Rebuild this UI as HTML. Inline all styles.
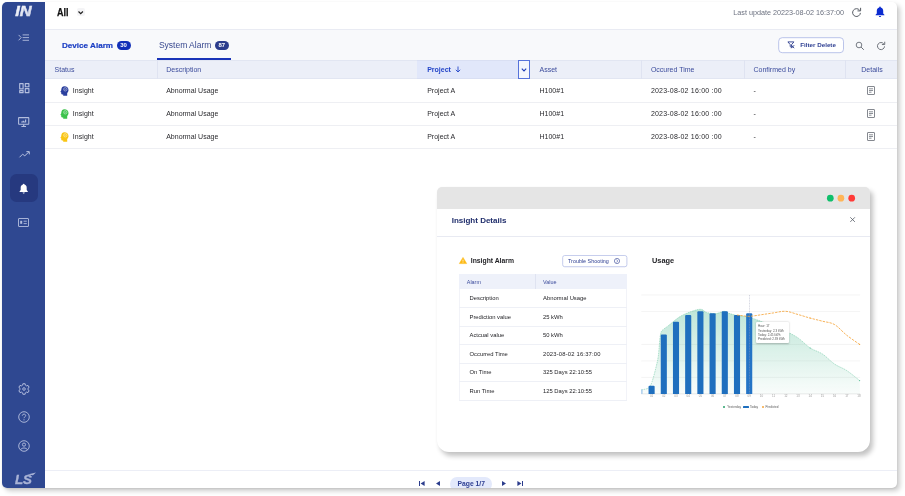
<!DOCTYPE html>
<html>
<head>
<meta charset="utf-8">
<title>Alarm</title>
<style>
*{box-sizing:border-box;margin:0;padding:0}
html,body{width:905px;height:496px;background:#fff;overflow:hidden}
body{font-family:"Liberation Sans",sans-serif;position:relative;color:#222}
.abs{position:absolute}
#card{position:absolute;left:2px;top:2px;width:895px;height:486px;border-radius:5px;background:#fff;
  box-shadow:3px 3px 5px rgba(0,0,0,.20),0 1px 2px rgba(0,0,0,.08)}
#clip{position:absolute;left:0;top:0;width:895px;height:486px;border-radius:5px;overflow:hidden}
#in{position:absolute;left:-2px;top:-2px;width:905px;height:496px;will-change:transform}
.t{position:absolute;white-space:pre;line-height:1}
svg{position:absolute;overflow:visible}
</style>
</head>
<body>
<div id="card"><div id="clip"><div id="in">
<div class="abs" style="left:2px;top:2px;width:43px;height:486px;background:#2f4891;"></div>
<svg style="left:14px;top:5px" width="20" height="12" viewBox="0 0 20 12"><defs><linearGradient id="lg" x1="0" y1="0" x2="1" y2="1"><stop offset="0" stop-color="#ffffff"/><stop offset="1" stop-color="#c9cfe6"/></linearGradient></defs><text x="1.2" y="10.9" font-family="Liberation Sans" font-weight="bold" font-style="italic" font-size="14.2" fill="url(#lg)" stroke="url(#lg)" stroke-width="0.45" textLength="16.4" lengthAdjust="spacingAndGlyphs">IN</text></svg>
<svg style="left:18px;top:34px" width="12" height="8" viewBox="0 0 12 8"><path d="M0.6 0.9 L3.2 3.6 L0.6 6.3" fill="none" stroke="#b4bede" stroke-width="0.9"/><path d="M4.6 0.9 H11 M4.6 3.6 H11 M4.6 6.3 H11" stroke="#b4bede" stroke-width="0.9"/></svg>
<svg style="left:18.7px;top:83px" width="10.6" height="10.4" viewBox="0 0 10.6 10.4"><g fill="none" stroke="#b4bede" stroke-width="1.15" stroke-linejoin="round"><rect x="0.7" y="0.7" width="3.4" height="5.2"/><rect x="6.3" y="0.7" width="3.6" height="3.1"/><rect x="0.7" y="7.6" width="3.4" height="2.1"/><rect x="6.3" y="5.6" width="3.6" height="4.1"/></g></svg>
<svg style="left:18px;top:117px" width="11.4" height="10" viewBox="0 0 11.4 10"><g fill="none" stroke="#b4bede" stroke-width="1.05"><rect x="0.6" y="0.6" width="10.2" height="6.6" rx="0.4"/><path d="M3.4 9.5 H8 M5.7 7.2 V9.5" stroke-width="1.2"/></g><path d="M3.2 5.6 V4.6 H4.6 V3.8 H6 V4.4 H7 V2.6 H8.2 V5.6 Z" fill="#b4bede"/></svg>
<svg style="left:18.5px;top:151px" width="11" height="7" viewBox="0 0 11 7"><g fill="none" stroke="#b4bede" stroke-width="1"><path d="M0.5 6.3 L3.6 3.2 L5.8 4.8 L10 0.8"/><path d="M7.4 0.6 H10.3 V3.4"/></g></svg>
<div class="abs" style="left:9.7px;top:174.2px;width:28.1px;height:27.8px;background:#26397f;border-radius:6.5px"></div>
<svg style="left:19px;top:182.6px" width="9.4" height="11.6" viewBox="0 0 10 12"><path d="M5 0.6 C5.5 0.6 5.8 1 5.8 1.4 C7.4 1.8 8.2 3.2 8.2 4.8 V7.4 L9.4 8.8 V9.3 H0.6 V8.8 L1.8 7.4 V4.8 C1.8 3.2 2.6 1.8 4.2 1.4 C4.2 1 4.5 0.6 5 0.6 Z M3.9 9.9 H6.1 C6.1 10.6 5.6 11.1 5 11.1 C4.4 11.1 3.9 10.6 3.9 9.9 Z" fill="#fff"/></svg>
<svg style="left:18.2px;top:217.5px" width="11" height="9" viewBox="0 0 11 9"><g fill="none" stroke="#b4bede" stroke-width="0.9"><rect x="0.5" y="0.5" width="10" height="8" rx="0.4"/><path d="M5.6 3.2 H8.8 M5.6 5.6 H8.8"/><rect x="2.2" y="2.8" width="2" height="3" fill="#b4bede" stroke="none"/></g></svg>
<svg style="left:17.6px;top:383.3px" width="12" height="12" viewBox="0 0 12 12"><path d="M4.67,2.12 L4.88,0.72 L7.12,0.72 L7.33,2.12 L8.69,2.91 L10.01,2.39 L11.14,4.33 L10.02,5.22 L10.02,6.78 L11.14,7.67 L10.01,9.61 L8.69,9.09 L7.33,9.88 L7.12,11.28 L4.88,11.28 L4.67,9.88 L3.31,9.09 L1.99,9.61 L0.86,7.67 L1.98,6.78 L1.98,5.22 L0.86,4.33 L1.99,2.39 L3.31,2.91Z" fill="none" stroke="#b4bede" stroke-width="0.95" stroke-linejoin="round"/><circle cx="6" cy="6" r="1.3" fill="none" stroke="#b4bede" stroke-width="0.9"/></svg>
<svg style="left:17.6px;top:411.4px" width="12" height="12" viewBox="0 0 12 12"><circle cx="6" cy="6" r="5.3" fill="none" stroke="#b4bede" stroke-width="0.9"/><path d="M4.3 4.7 C4.3 2.6 7.7 2.6 7.7 4.6 C7.7 5.8 6 5.9 6 7.2" fill="none" stroke="#b4bede" stroke-width="0.9"/><circle cx="6" cy="8.8" r="0.6" fill="#b4bede"/></svg>
<svg style="left:17.6px;top:440.2px" width="12" height="12" viewBox="0 0 12 12"><circle cx="6" cy="6" r="5.3" fill="none" stroke="#b4bede" stroke-width="0.9"/><circle cx="6" cy="4.6" r="1.6" fill="none" stroke="#b4bede" stroke-width="0.9"/><path d="M2.6 9.8 C3.4 7.4 8.6 7.4 9.4 9.8" fill="none" stroke="#b4bede" stroke-width="0.9"/></svg>
<svg style="left:14px;top:471px" width="24" height="14" viewBox="0 0 24 14"><text x="1" y="12.6" font-family="Liberation Sans" font-weight="bold" font-style="italic" font-size="13" fill="#a9b3d6" stroke="#a9b3d6" stroke-width="0.4" textLength="17" lengthAdjust="spacingAndGlyphs">LS</text><path d="M13.5 3.6 L22 1.6 L19 4.2 Z" fill="#a9b3d6"/></svg>
<div class="abs" style="left:45px;top:29px;width:852px;height:1px;background:#e9ebf3;"></div>
<div class="t" style="left:56.5px;top:7.80px;font-size:10px;color:#111;font-weight:bold;transform:scaleX(0.9);transform-origin:0 50%;-webkit-text-stroke:0.25px #111;">All</div>
<div class="abs" style="left:76.8px;top:8.2px;width:8.6px;height:8px;background:#f4f4f6;border-radius:2px"></div>
<svg style="left:78.2px;top:11px" width="6" height="4" viewBox="0 0 6 4"><path d="M0.5 0.5 L2.7 2.7 L4.9 0.5" fill="none" stroke="#222" stroke-width="1.2"/></svg>
<div class="t" style="left:733.3px;top:8.69px;font-size:7.22px;color:#6d7280;">Last update 20223-08-02 16:37:00</div>
<svg style="left:851px;top:7px" width="11" height="11" viewBox="0 0 11 11"><path d="M8.6 3.2 A3.9 3.9 0 1 0 9.4 5.9" fill="none" stroke="#555a63" stroke-width="1"/><path d="M9.6 0.8 V3.9 H6.5" fill="none" stroke="#555a63" stroke-width="1"/></svg>
<svg style="left:875px;top:6px" width="10" height="12" viewBox="0 0 10 12"><path d="M5 0.6 C5.5 0.6 5.8 1 5.8 1.4 C7.4 1.8 8.2 3.2 8.2 4.8 V7.4 L9.4 8.8 V9.3 H0.6 V8.8 L1.8 7.4 V4.8 C1.8 3.2 2.6 1.8 4.2 1.4 C4.2 1 4.5 0.6 5 0.6 Z M3.9 9.9 H6.1 C6.1 10.6 5.6 11.1 5 11.1 C4.4 11.1 3.9 10.6 3.9 9.9 Z" fill="#0b2bd0"/></svg>
<div class="abs" style="left:45px;top:30px;width:852px;height:30px;background:#f8f9fb;"></div>
<div class="t" style="left:62px;top:41.65px;font-size:8.1px;color:#1c3fc4;font-weight:bold;-webkit-text-stroke:0.2px #1c3fc4;">Device Alarm</div>
<div class="abs" style="left:116.6px;top:40.6px;width:14px;height:9.2px;background:#1230b8;border-radius:5px"></div>
<div class="t" style="left:116.6px;top:42.30px;font-size:6px;color:#fff;font-weight:bold;width:14px;text-align:center;">30</div>
<div class="t" style="left:158.9px;top:41.45px;font-size:8.5px;color:#38488f;">System Alarm</div>
<div class="abs" style="left:214.8px;top:40.6px;width:14px;height:9.2px;background:#2b3c8c;border-radius:5px"></div>
<div class="t" style="left:214.8px;top:42.30px;font-size:6px;color:#fff;font-weight:bold;width:14px;text-align:center;">87</div>
<div class="abs" style="left:157.2px;top:58.2px;width:73.4px;height:1.5px;background:#1a34b8;"></div>
<svg style="left:778px;top:37px" width="66" height="16" viewBox="0 0 66 16"><rect x="0.7" y="0.7" width="64.8" height="15" rx="3.5" fill="#fff" stroke="#b3bde8" stroke-width="0.9"/></svg>
<svg style="left:786.8px;top:41.4px" width="8" height="8" viewBox="0 0 8 8"><path d="M0.9 0.9 H6.9 L4.6 3.6 V6.6 L3.2 5.6 V3.6 Z" fill="none" stroke="#2b3c8c" stroke-width="0.9" stroke-linejoin="round"/><path d="M4.4 4.2 L7.2 7.2 M7.2 4.2 L4.4 7.2" stroke="#2b3c8c" stroke-width="0.9"/></svg>
<div class="t" style="left:800.3px;top:42.19px;font-size:6.22px;color:#2d3e92;font-weight:bold;">Filter Delete</div>
<svg style="left:854.5px;top:40.5px" width="10" height="10" viewBox="0 0 10 10"><circle cx="4" cy="4" r="2.8" fill="none" stroke="#686d76" stroke-width="0.9"/><path d="M6.1 6.1 L8.8 8.8" stroke="#686d76" stroke-width="1"/></svg>
<svg style="left:875.5px;top:40.5px" width="10" height="10" viewBox="0 0 11 11"><path d="M8.6 3.2 A3.9 3.9 0 1 0 9.4 5.9" fill="none" stroke="#62676f" stroke-width="1"/><path d="M9.6 0.8 V3.9 H6.5" fill="none" stroke="#62676f" stroke-width="1"/></svg>
<div class="abs" style="left:45px;top:60px;width:852px;height:19px;background:#eceff8;border-top:1px solid #e2e6f2;border-bottom:1px solid #e2e6f2"></div>
<div class="abs" style="left:417px;top:60px;width:102px;height:19px;background:#e1e7fa;border-top:1px solid #d9dff3;border-bottom:1px solid #d9dff3"></div>
<div class="abs" style="left:518px;top:60px;width:12px;height:19px;background:#f4f6fd;border:1px solid #5773da"></div>
<div class="abs" style="left:156.5px;top:60px;width:1px;height:19px;background:#dfe3f1;"></div>
<div class="abs" style="left:641px;top:60px;width:1px;height:19px;background:#dfe3f1;"></div>
<div class="abs" style="left:744px;top:60px;width:1px;height:19px;background:#dfe3f1;"></div>
<div class="abs" style="left:845px;top:60px;width:1px;height:19px;background:#dfe3f1;"></div>
<div class="t" style="left:54.6px;top:66.10px;font-size:7px;color:#3c4c9c;">Status</div>
<div class="t" style="left:166.2px;top:66.10px;font-size:7px;color:#3c4c9c;">Description</div>
<div class="t" style="left:427.2px;top:66.10px;font-size:7px;color:#2445c8;font-weight:bold;">Project</div>
<svg style="left:455px;top:66.2px" width="6" height="7" viewBox="0 0 6 7"><path d="M3 0.5 V6 M0.8 3.8 L3 6 L5.2 3.8" fill="none" stroke="#2445c8" stroke-width="0.9"/></svg>
<svg style="left:521.3px;top:68px" width="6" height="4" viewBox="0 0 6 4"><path d="M0.8 0.7 L3 3 L5.2 0.7" fill="none" stroke="#1f3db8" stroke-width="1.1"/></svg>
<div class="t" style="left:539.5px;top:66.10px;font-size:7px;color:#3c4c9c;">Asset</div>
<div class="t" style="left:650.9px;top:66.10px;font-size:7px;color:#3c4c9c;">Occured Time</div>
<div class="t" style="left:753.5px;top:66.10px;font-size:7px;color:#3c4c9c;">Confirmed by</div>
<div class="t" style="left:861.3px;top:66.10px;font-size:7px;color:#3c4c9c;">Details</div>
<div class="abs" style="left:45px;top:102px;width:852px;height:1px;background:#eeeff3;"></div>
<div class="abs" style="left:45px;top:125px;width:852px;height:1px;background:#eeeff3;"></div>
<div class="abs" style="left:45px;top:148px;width:852px;height:1px;background:#eeeff3;"></div>
<svg style="left:59.9px;top:86.0px" width="9" height="10" viewBox="0 0 9 10"><path d="M4.4 0.3 C6.8 0.3 8.5 1.9 8.5 4 C8.5 5.4 7.8 6.3 7.2 6.9 V9.7 H3.2 V8.4 H2 C1.5 8.4 1.2 8.1 1.2 7.6 V6.3 L0.3 6 L1.2 4.4 C1.2 1.9 2.4 0.3 4.4 0.3 Z" fill="#2a3f9e"/><circle cx="5.3" cy="3.3" r="1.7" fill="none" stroke="#fff" stroke-width="0.7" opacity="0.6"/><path d="M4.4 3.4 L6.2 3.2" stroke="#fff" stroke-width="0.6" opacity="0.6"/></svg>
<div class="t" style="left:72.8px;top:86.90px;font-size:7px;color:#2a2a2e;letter-spacing:0.05px;">Insight</div>
<div class="t" style="left:166.2px;top:86.90px;font-size:7px;color:#2a2a2e;">Abnormal Usage</div>
<div class="t" style="left:427.2px;top:86.90px;font-size:7px;color:#2a2a2e;">Project A</div>
<div class="t" style="left:539.5px;top:86.90px;font-size:7px;color:#2a2a2e;">H100#1</div>
<div class="t" style="left:650.9px;top:86.90px;font-size:7px;color:#2a2a2e;letter-spacing:0.2px;">2023-08-02 16:00 :00</div>
<div class="t" style="left:753.5px;top:86.90px;font-size:7px;color:#2a2a2e;">-</div>
<svg style="left:867.3px;top:85.6px" width="8" height="9" viewBox="0 0 8 9"><rect x="0.5" y="0.5" width="7" height="8" rx="0.4" fill="#fff" stroke="#666b74" stroke-width="0.8"/><path d="M2 2.8 H6 M2 4.5 H6 M2 6.2 H4.5" stroke="#666b74" stroke-width="0.75"/></svg>
<svg style="left:59.9px;top:109.2px" width="9" height="10" viewBox="0 0 9 10"><path d="M4.4 0.3 C6.8 0.3 8.5 1.9 8.5 4 C8.5 5.4 7.8 6.3 7.2 6.9 V9.7 H3.2 V8.4 H2 C1.5 8.4 1.2 8.1 1.2 7.6 V6.3 L0.3 6 L1.2 4.4 C1.2 1.9 2.4 0.3 4.4 0.3 Z" fill="#3cc24c"/><circle cx="5.3" cy="3.3" r="1.7" fill="none" stroke="#fff" stroke-width="0.7" opacity="0.6"/><path d="M4.4 3.4 L6.2 3.2" stroke="#fff" stroke-width="0.6" opacity="0.6"/></svg>
<div class="t" style="left:72.8px;top:110.10px;font-size:7px;color:#2a2a2e;letter-spacing:0.05px;">Insight</div>
<div class="t" style="left:166.2px;top:110.10px;font-size:7px;color:#2a2a2e;">Abnormal Usage</div>
<div class="t" style="left:427.2px;top:110.10px;font-size:7px;color:#2a2a2e;">Project A</div>
<div class="t" style="left:539.5px;top:110.10px;font-size:7px;color:#2a2a2e;">H100#1</div>
<div class="t" style="left:650.9px;top:110.10px;font-size:7px;color:#2a2a2e;letter-spacing:0.2px;">2023-08-02 16:00 :00</div>
<div class="t" style="left:753.5px;top:110.10px;font-size:7px;color:#2a2a2e;">-</div>
<svg style="left:867.3px;top:108.8px" width="8" height="9" viewBox="0 0 8 9"><rect x="0.5" y="0.5" width="7" height="8" rx="0.4" fill="#fff" stroke="#666b74" stroke-width="0.8"/><path d="M2 2.8 H6 M2 4.5 H6 M2 6.2 H4.5" stroke="#666b74" stroke-width="0.75"/></svg>
<svg style="left:59.9px;top:132.2px" width="9" height="10" viewBox="0 0 9 10"><path d="M4.4 0.3 C6.8 0.3 8.5 1.9 8.5 4 C8.5 5.4 7.8 6.3 7.2 6.9 V9.7 H3.2 V8.4 H2 C1.5 8.4 1.2 8.1 1.2 7.6 V6.3 L0.3 6 L1.2 4.4 C1.2 1.9 2.4 0.3 4.4 0.3 Z" fill="#f9c513"/><circle cx="5.3" cy="3.3" r="1.7" fill="none" stroke="#fff" stroke-width="0.7" opacity="0.6"/><path d="M4.4 3.4 L6.2 3.2" stroke="#fff" stroke-width="0.6" opacity="0.6"/></svg>
<div class="t" style="left:72.8px;top:133.10px;font-size:7px;color:#2a2a2e;letter-spacing:0.05px;">Insight</div>
<div class="t" style="left:166.2px;top:133.10px;font-size:7px;color:#2a2a2e;">Abnormal Usage</div>
<div class="t" style="left:427.2px;top:133.10px;font-size:7px;color:#2a2a2e;">Project A</div>
<div class="t" style="left:539.5px;top:133.10px;font-size:7px;color:#2a2a2e;">H100#1</div>
<div class="t" style="left:650.9px;top:133.10px;font-size:7px;color:#2a2a2e;letter-spacing:0.2px;">2023-08-02 16:00 :00</div>
<div class="t" style="left:753.5px;top:133.10px;font-size:7px;color:#2a2a2e;">-</div>
<svg style="left:867.3px;top:131.8px" width="8" height="9" viewBox="0 0 8 9"><rect x="0.5" y="0.5" width="7" height="8" rx="0.4" fill="#fff" stroke="#666b74" stroke-width="0.8"/><path d="M2 2.8 H6 M2 4.5 H6 M2 6.2 H4.5" stroke="#666b74" stroke-width="0.75"/></svg>
<div class="abs" style="left:45px;top:469.5px;width:852px;height:1px;background:#eceef6;"></div>
<div class="abs" style="left:450.2px;top:476.6px;width:41.8px;height:14px;background:#e3e9fb;border-radius:7px"></div>
<div class="t" style="left:457.5px;top:481.43px;font-size:6.75px;color:#2d3e92;font-weight:bold;">Page 1/7</div>
<svg style="left:419.4px;top:481.2px" width="6" height="5" viewBox="0 0 6 5"><path d="M0.5 0 V5" stroke="#2b3c8c" stroke-width="1"/><path d="M5.6 0 V5 L1.6 2.5 Z" fill="#2b3c8c"/></svg>
<svg style="left:436px;top:481.2px" width="4" height="5" viewBox="0 0 4 5"><path d="M4 0 V5 L0 2.5 Z" fill="#2b3c8c"/></svg>
<svg style="left:502px;top:481.2px" width="4" height="5" viewBox="0 0 4 5"><path d="M0 0 V5 L4 2.5 Z" fill="#2b3c8c"/></svg>
<svg style="left:516.6px;top:481.2px" width="6" height="5" viewBox="0 0 6 5"><path d="M5.5 0 V5" stroke="#2b3c8c" stroke-width="1"/><path d="M0.4 0 V5 L4.4 2.5 Z" fill="#2b3c8c"/></svg>
<div class="abs" style="left:437.3px;top:187.3px;width:432.8px;height:264.7px;background:#fff;border-radius:5px 5px 12px 12px;box-shadow:3px 4px 5px rgba(0,0,0,.24),0 0 2px rgba(0,0,0,.04);overflow:hidden"><div style="position:absolute;left:0;top:0;width:100%;height:21.3px;background:#e5e5e5"></div></div>
<svg style="left:0;top:0" width="905" height="496" viewBox="0 0 905 496"><circle cx="830.3" cy="198.2" r="3.35" fill="#10bf6b"/><circle cx="840.9" cy="198.2" r="3.35" fill="#ffb557"/><circle cx="851.7" cy="198.2" r="3.35" fill="#ff3b38"/></svg>
<div class="t" style="left:451.7px;top:216.60px;font-size:8px;color:#1f2d6b;font-weight:bold;">Insight Details</div>
<svg style="left:850.2px;top:217.3px" width="5.2" height="5.2" viewBox="0 0 5.2 5.2"><path d="M0.3 0.3 L4.9 4.9 M4.9 0.3 L0.3 4.9" stroke="#555c66" stroke-width="0.8"/></svg>
<div class="abs" style="left:437.3px;top:236px;width:432.8px;height:1px;background:#e8eaf2;"></div>
<svg style="left:459.4px;top:257.3px" width="8" height="7" viewBox="0 0 8 7"><path d="M4 0.4 L7.7 6.6 H0.3 Z" fill="#fdb913" stroke="#fdb913" stroke-width="0.5" stroke-linejoin="round"/><path d="M4 2.6 V4.6" stroke="#fff" stroke-width="0.7"/><circle cx="4" cy="5.5" r="0.4" fill="#fff"/></svg>
<div class="t" style="left:470.8px;top:258.00px;font-size:6.8px;color:#1e1e22;font-weight:bold;">Insight Alarm</div>
<svg style="left:562px;top:254.5px" width="66" height="13" viewBox="0 0 66 13"><rect x="0.7" y="0.9" width="64.2" height="11.4" rx="2" fill="#d9deef" opacity="0.6"/><rect x="0.7" y="0.5" width="64.2" height="11.2" rx="2" fill="#fff" stroke="#b9c2e9" stroke-width="0.8"/></svg>
<div class="t" style="left:568px;top:258.50px;font-size:5.4px;color:#2d3e92;">Trouble Shooting</div>
<svg style="left:614.3px;top:257.7px" width="6" height="6" viewBox="0 0 6 6"><circle cx="3" cy="3" r="2.6" fill="none" stroke="#2d3e92" stroke-width="0.6"/><path d="M2.4 1.7 L3.8 3 L2.4 4.3" fill="none" stroke="#2d3e92" stroke-width="0.6"/></svg>
<div class="abs" style="left:459px;top:274.3px;width:168px;height:14.3px;background:#eef1fa;"></div>
<div class="abs" style="left:535px;top:274.3px;width:1px;height:14.3px;background:#dfe3f1;"></div>
<div class="t" style="left:466.8px;top:279.50px;font-size:5.4px;color:#3c4c9c;">Alarm</div>
<div class="t" style="left:543px;top:279.50px;font-size:5.4px;color:#3c4c9c;">Value</div>
<div class="abs" style="left:459px;top:288.6px;width:1px;height:111.4px;background:#f2f3f8;"></div>
<div class="abs" style="left:626px;top:288.6px;width:1px;height:111.4px;background:#f2f3f8;"></div>
<div class="t" style="left:469.5px;top:296.18px;font-size:5.85px;color:#1e1e22;">Description</div>
<div class="t" style="left:543px;top:296.18px;font-size:5.85px;color:#1e1e22;">Abnormal Usage</div>
<div class="abs" style="left:459px;top:307.2px;width:168px;height:1px;background:#eef0f6;"></div>
<div class="t" style="left:469.5px;top:314.73px;font-size:5.85px;color:#1e1e22;">Prediction value</div>
<div class="t" style="left:543px;top:314.73px;font-size:5.85px;color:#1e1e22;">25 kWh</div>
<div class="abs" style="left:459px;top:325.8px;width:168px;height:1px;background:#eef0f6;"></div>
<div class="t" style="left:469.5px;top:333.28px;font-size:5.85px;color:#1e1e22;">Actcual value</div>
<div class="t" style="left:543px;top:333.28px;font-size:5.85px;color:#1e1e22;">50 kWh</div>
<div class="abs" style="left:459px;top:344.3px;width:168px;height:1px;background:#eef0f6;"></div>
<div class="t" style="left:469.5px;top:351.82px;font-size:5.85px;color:#1e1e22;">Occurred Time</div>
<div class="t" style="left:543px;top:351.82px;font-size:5.85px;color:#1e1e22;"><span style="letter-spacing:0.18px">2023-08-02 16:37:00</span></div>
<div class="abs" style="left:459px;top:362.9px;width:168px;height:1px;background:#eef0f6;"></div>
<div class="t" style="left:469.5px;top:370.38px;font-size:5.85px;color:#1e1e22;">On Time</div>
<div class="t" style="left:543px;top:370.38px;font-size:5.85px;color:#1e1e22;">325 Days 22:10:55</div>
<div class="abs" style="left:459px;top:381.4px;width:168px;height:1px;background:#eef0f6;"></div>
<div class="t" style="left:469.5px;top:388.93px;font-size:5.85px;color:#1e1e22;">Run Time</div>
<div class="t" style="left:543px;top:388.93px;font-size:5.85px;color:#1e1e22;">125 Days 22:10:55</div>
<div class="abs" style="left:459px;top:399.9px;width:168px;height:1px;background:#eef0f6;"></div>
<div class="t" style="left:652px;top:257.00px;font-size:7.4px;color:#1e1e22;font-weight:bold;">Usage</div>
<svg style="left:0;top:0" width="905" height="496" viewBox="0 0 905 496"><defs><linearGradient id="ga" x1="0" y1="0" x2="0" y2="1"><stop offset="0" stop-color="#3fb58a" stop-opacity="0.34"/><stop offset="1" stop-color="#3fb58a" stop-opacity="0.03"/></linearGradient><clipPath id="cp"><rect x="641.3" y="293.0" width="218.8" height="100.9"/></clipPath></defs><path d="M641.3 295.00 H860.1" stroke="#ececec" stroke-width="0.6"/><path d="M641.3 311.48 H860.1" stroke="#ececec" stroke-width="0.6"/><path d="M641.3 344.45 H860.1" stroke="#ececec" stroke-width="0.6"/><path d="M641.3 360.93 H860.1" stroke="#ececec" stroke-width="0.6"/><path d="M641.3 377.42 H860.1" stroke="#ececec" stroke-width="0.6"/><path d="M641.3 393.90 H860.1" stroke="#dcdcdc" stroke-width="0.6"/><path d="M641.3 389.9 C642.5 389.6 646.8 389.2 648.6 387.9 C650.4 386.6 650.8 385.3 652.0 381.9 C653.2 378.5 655.0 371.6 656.0 367.3 C657.0 363.0 657.5 361.9 658.3 356.3 C659.1 350.8 659.6 338.6 660.6 334.0 C661.6 329.4 662.8 330.3 664.0 329.0 C665.2 327.7 665.3 328.1 668.0 326.0 C670.7 323.9 676.0 319.1 680.0 316.6 C684.0 314.2 688.5 312.5 692.0 311.3 C695.5 310.1 698.6 309.1 701.0 309.3 C703.4 309.5 704.0 311.7 706.5 312.4 C709.0 313.1 713.1 313.8 716.0 313.6 C718.9 313.4 721.8 311.4 724.0 311.3 C726.2 311.2 727.0 312.6 729.0 313.3 C731.0 314.0 733.8 314.9 736.0 315.3 C738.2 315.8 740.2 315.7 742.4 316.0 C744.6 316.3 746.0 316.3 749.2 317.2 C752.4 318.1 757.3 320.0 761.4 321.5 C765.5 323.0 769.5 324.7 773.6 326.3 C777.7 327.9 781.7 329.4 785.8 331.3 C789.9 333.2 793.9 335.1 798.0 337.9 C802.1 340.7 806.1 345.3 810.2 348.0 C814.3 350.7 818.3 351.3 822.4 354.0 C826.5 356.7 830.5 361.3 834.6 364.1 C838.7 366.9 842.6 367.9 846.8 370.6 C851.0 373.4 857.5 378.9 859.6 380.6 L860.1 393.9 L641.3 393.9 Z" fill="url(#ga)"/><path d="M641.3 389.9 C642.5 389.6 646.8 389.2 648.6 387.9 C650.4 386.6 650.8 385.3 652.0 381.9 C653.2 378.5 655.0 371.6 656.0 367.3 C657.0 363.0 657.5 361.9 658.3 356.3 C659.1 350.8 659.6 338.6 660.6 334.0 C661.6 329.4 662.8 330.3 664.0 329.0 C665.2 327.7 665.3 328.1 668.0 326.0 C670.7 323.9 676.0 319.1 680.0 316.6 C684.0 314.2 688.5 312.5 692.0 311.3 C695.5 310.1 698.6 309.1 701.0 309.3 C703.4 309.5 704.0 311.7 706.5 312.4 C709.0 313.1 713.1 313.8 716.0 313.6 C718.9 313.4 721.8 311.4 724.0 311.3 C726.2 311.2 727.0 312.6 729.0 313.3 C731.0 314.0 733.8 314.9 736.0 315.3 C738.2 315.8 740.2 315.7 742.4 316.0 C744.6 316.3 746.0 316.3 749.2 317.2 C752.4 318.1 757.3 320.0 761.4 321.5 C765.5 323.0 769.5 324.7 773.6 326.3 C777.7 327.9 781.7 329.4 785.8 331.3 C789.9 333.2 793.9 335.1 798.0 337.9 C802.1 340.7 806.1 345.3 810.2 348.0 C814.3 350.7 818.3 351.3 822.4 354.0 C826.5 356.7 830.5 361.3 834.6 364.1 C838.7 366.9 842.6 367.9 846.8 370.6 C851.0 373.4 857.5 378.9 859.6 380.6" fill="none" stroke="#7fcfae" stroke-width="0.6" stroke-dasharray="1.6 0.8"/><rect x="641.3" y="389.5" width="1.2" height="4.4" fill="#9cc3ea"/><path d="M648.55 393.9 V386.70 Q648.55 385.70 649.55 385.70 H653.65 Q654.65 385.70 654.65 386.70 V393.9 Z" fill="#1f6fbe"/><path d="M660.75 393.9 V335.60 Q660.75 334.60 661.75 334.60 H665.85 Q666.85 334.60 666.85 335.60 V393.9 Z" fill="#1f6fbe"/><path d="M672.95 393.9 V322.70 Q672.95 321.70 673.95 321.70 H678.05 Q679.05 321.70 679.05 322.70 V393.9 Z" fill="#1f6fbe"/><path d="M685.15 393.9 V315.90 Q685.15 314.90 686.15 314.90 H690.25 Q691.25 314.90 691.25 315.90 V393.9 Z" fill="#1f6fbe"/><path d="M697.35 393.9 V312.30 Q697.35 311.30 698.35 311.30 H702.45 Q703.45 311.30 703.45 312.30 V393.9 Z" fill="#1f6fbe"/><path d="M709.55 393.9 V314.30 Q709.55 313.30 710.55 313.30 H714.65 Q715.65 313.30 715.65 314.30 V393.9 Z" fill="#1f6fbe"/><path d="M721.75 393.9 V312.30 Q721.75 311.30 722.75 311.30 H726.85 Q727.85 311.30 727.85 312.30 V393.9 Z" fill="#1f6fbe"/><path d="M733.95 393.9 V316.00 Q733.95 315.00 734.95 315.00 H739.05 Q740.05 315.00 740.05 316.00 V393.9 Z" fill="#1f6fbe"/><path d="M746.15 393.9 V314.30 Q746.15 313.30 747.15 313.30 H751.25 Q752.25 313.30 752.25 314.30 V393.9 Z" fill="#2474c6"/><path d="M749.5 295.0 V393.9" stroke="#9aa0b8" stroke-width="0.4" stroke-dasharray="1 0.6"/><path d="M737.0 315.0 C739.0 315.2 745.1 316.4 749.2 316.3 C753.3 316.2 757.3 315.3 761.4 314.7 C765.5 314.1 769.5 313.5 773.6 312.9 C777.7 312.3 781.7 311.0 785.8 311.3 C789.9 311.6 793.9 313.4 798.0 314.5 C802.1 315.6 806.1 317.0 810.2 318.1 C814.3 319.2 818.3 320.1 822.4 321.2 C826.5 322.3 830.5 322.2 834.6 324.6 C838.7 327.0 842.6 332.0 846.8 335.3 C851.0 338.6 857.5 342.9 859.6 344.4" fill="none" stroke="#f5a53c" stroke-width="0.85" stroke-dasharray="2.4 1.1"/><circle cx="810.2" cy="318.1" r="0.6" fill="#f5a53c"/><circle cx="859.6" cy="344.4" r="0.6" fill="#f5a53c"/><circle cx="810.2" cy="348" r="0.6" fill="#5cc09a"/><circle cx="859.6" cy="380.6" r="0.6" fill="#5cc09a"/></svg>
<div class="t" style="left:647.6px;top:395.40px;font-size:3px;color:#9a9a9a;width:8px;text-align:center;">01</div>
<div class="t" style="left:659.8px;top:395.40px;font-size:3px;color:#9a9a9a;width:8px;text-align:center;">02</div>
<div class="t" style="left:672.0px;top:395.40px;font-size:3px;color:#9a9a9a;width:8px;text-align:center;">03</div>
<div class="t" style="left:684.2px;top:395.40px;font-size:3px;color:#9a9a9a;width:8px;text-align:center;">04</div>
<div class="t" style="left:696.4px;top:395.40px;font-size:3px;color:#9a9a9a;width:8px;text-align:center;">05</div>
<div class="t" style="left:708.6px;top:395.40px;font-size:3px;color:#9a9a9a;width:8px;text-align:center;">06</div>
<div class="t" style="left:720.8px;top:395.40px;font-size:3px;color:#9a9a9a;width:8px;text-align:center;">07</div>
<div class="t" style="left:733.0px;top:395.40px;font-size:3px;color:#9a9a9a;width:8px;text-align:center;">08</div>
<div class="t" style="left:745.2px;top:395.40px;font-size:3px;color:#9a9a9a;width:8px;text-align:center;">09</div>
<div class="t" style="left:757.4px;top:395.40px;font-size:3px;color:#9a9a9a;width:8px;text-align:center;">10</div>
<div class="t" style="left:769.6px;top:395.40px;font-size:3px;color:#9a9a9a;width:8px;text-align:center;">11</div>
<div class="t" style="left:781.8px;top:395.40px;font-size:3px;color:#9a9a9a;width:8px;text-align:center;">12</div>
<div class="t" style="left:794.0px;top:395.40px;font-size:3px;color:#9a9a9a;width:8px;text-align:center;">13</div>
<div class="t" style="left:806.2px;top:395.40px;font-size:3px;color:#9a9a9a;width:8px;text-align:center;">14</div>
<div class="t" style="left:818.4px;top:395.40px;font-size:3px;color:#9a9a9a;width:8px;text-align:center;">15</div>
<div class="t" style="left:830.6px;top:395.40px;font-size:3px;color:#9a9a9a;width:8px;text-align:center;">16</div>
<div class="t" style="left:842.8px;top:395.40px;font-size:3px;color:#9a9a9a;width:8px;text-align:center;">17</div>
<div class="t" style="left:855.0px;top:395.40px;font-size:3px;color:#9a9a9a;width:8px;text-align:center;">18</div>
<div class="abs" style="left:756px;top:321.7px;width:33.2px;height:21.5px;background:#fff;border-radius:1px;box-shadow:0 0.5px 2px rgba(0,0,0,.25)"></div>
<div class="t" style="left:758px;top:325.20px;font-size:3px;color:#555;">Hour: 17</div>
<div class="t" style="left:758px;top:329.57px;font-size:3px;color:#555;">Yesterday: 2.3 kWh</div>
<div class="t" style="left:758px;top:333.94px;font-size:3px;color:#555;">Today: 2.45 kWh</div>
<div class="t" style="left:758px;top:338.31px;font-size:3px;color:#555;">Predicted: 2.39 kWh</div>
<div class="abs" style="left:722.7px;top:405.8px;width:2px;height:2px;background:#27a06b;border-radius:50%"></div>
<div class="t" style="left:727.3px;top:406.10px;font-size:3px;color:#555;letter-spacing:0.05px;">Yesterday</div>
<div class="abs" style="left:743.4px;top:405.5px;width:5.6px;height:2.6px;background:#1f6fbe;border-radius:0.5px"></div>
<div class="t" style="left:750px;top:406.10px;font-size:3px;color:#555;">Today</div>
<div class="abs" style="left:761.6px;top:405.8px;width:2px;height:2px;background:#f5a53c;border-radius:50%"></div>
<div class="t" style="left:765.4px;top:406.10px;font-size:3px;color:#555;letter-spacing:0.05px;">Predicted</div>
</div></div></div>
</body>
</html>
